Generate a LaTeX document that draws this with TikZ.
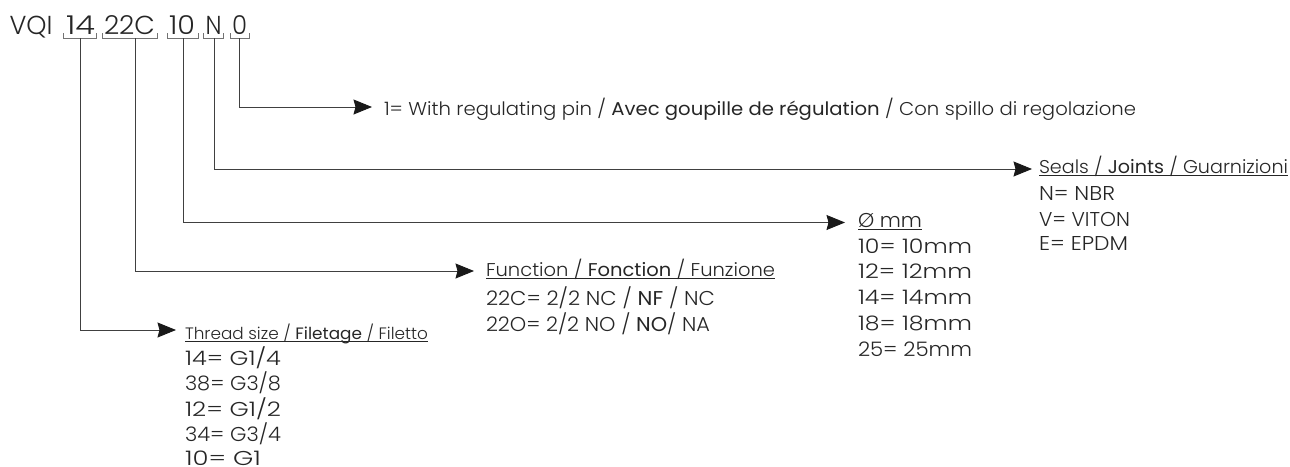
\documentclass[tikz,border=0pt]{standalone}
\usepackage{fontspec}
\usepackage{graphicx}
\setmainfont{Poppins}[UprightFont=* Light,BoldFont=*]
\usetikzlibrary{arrows.meta}
\definecolor{ink}{HTML}{262626}
\tikzset{
  x=1pt,y=-1pt,
  lbl/.style={anchor=base west,inner sep=0pt,outer sep=0pt,text=ink,font=\fontsize{18.5}{20}\selectfont},
  row/.style={lbl,font=\fontsize{20}{22}\selectfont},
  code/.style={anchor=base west,inner sep=0pt,outer sep=0pt,text=ink,font=\fontsize{26}{28}\selectfont},
  brace/.style={draw=black!55,line width=0.9pt},
  conn/.style={draw=black!75,line width=0.9pt,-{Stealth[length=18.5pt,width=15pt,inset=2pt,black!90]}},
  rule/.style={draw=ink,line width=0.8pt}
}
\newcommand{\fr}[1]{\textbf{#1}}
\newcommand{\fit}[2]{\resizebox{#1pt}{\height}{#2}}
\begin{document}
\begin{tikzpicture}
\useasboundingbox (0,0) rectangle (1290,466);
\node[code] (vqi) at (9.5,34) {\fit{43}{VQI}};
\node[code] (n14) at (66,34) {\fit{29}{14}};
\node[code] (n22) at (104,34) {\fit{51}{22C}};
\node[code] (n10) at (169,34) {\fit{26}{10}};
\node[code] (nN) at (205.5,34) {\fit{16}{N}};
\node[code] (n0) at (232,34) {\fit{15}{0}};
\foreach \a/\b/\c/\n in {63/96/80.5/b14,102/157/135/b22,167/198/183/b10,203/223/214/bN,230/249/239/b0}{
  \draw[brace] (\a,33) -- (\a,38) -- (\b,38) -- (\b,33);
  \coordinate (\n) at (\c,38);
}
\coordinate (a0) at (372,107);
\coordinate (aN) at (1032,169);
\coordinate (a10) at (845,222.5);
\coordinate (a22) at (474,271);
\coordinate (a14) at (176,330);
\draw[conn] (b0) |- (a0);
\draw[conn] (bN) |- (aN);
\draw[conn] (b10) |- (a10);
\draw[conn] (b22) |- (a22);
\draw[conn] (b14) |- (a14);
\node[lbl] (t0) at (384,115) {\fit{752}{1= With regulating pin / \fr{Avec goupille de régulation} / Con spillo di regolazione}};
\node[lbl] (hs) at (1039,173) {\fit{249}{Seals / \fr{Joints} / Guarnizioni}};
\draw[rule] (hs.base west)++(0,2.5) -- ++(249,0);
\node[row] (s1) at (1039,200) {\fit{76}{N= NBR}};
\node[row] (s2) at (1039,226) {\fit{91}{V= VITON}};
\node[row] (s3) at (1039,250) {\fit{89}{E= EPDM}};
\node[row] (hd) at (858,227) {\fit{64}{Ø mm}};
\draw[rule] (hd.base west)++(0,2.5) -- ++(64,0);
\node[row] (d1) at (858,253) {\fit{114}{10= 10mm}};
\node[row] (d2) at (858,278) {\fit{114}{12= 12mm}};
\node[row] (d3) at (858,304) {\fit{114}{14= 14mm}};
\node[row] (d4) at (858,330) {\fit{114}{18= 18mm}};
\node[row] (d5) at (858,356) {\fit{114}{25= 25mm}};
\node[lbl] (hf) at (486,276) {\fit{289}{Function / \fr{Fonction} / Funzione}};
\draw[rule] (hf.base west)++(0,2.5) -- ++(289,0);
\node[row] (f1) at (486,305) {\fit{229}{22C= 2/2 NC / \fr{NF} / NC}};
\node[row] (f2) at (486,331) {\fit{224}{22O= 2/2 NO / \fr{NO}/ NA}};
\node[lbl] (ht) at (185,339) {\fontsize{16.5}{18}\selectfont\fit{243}{Thread size / \fr{Filetage} / Filetto}};
\draw[rule] (ht.base west)++(0,2.5) -- ++(243,0);
\node[row] (g1) at (185,365) {\fit{96}{14= G1/4}};
\node[row] (g2) at (185,390) {\fit{96}{38= G3/8}};
\node[row] (g3) at (185,416) {\fit{96}{12= G1/2}};
\node[row] (g4) at (185,441) {\fit{96}{34= G3/4}};
\node[row] (g5) at (185,465) {\fit{76}{10= G1}};
\end{tikzpicture}
\end{document}
